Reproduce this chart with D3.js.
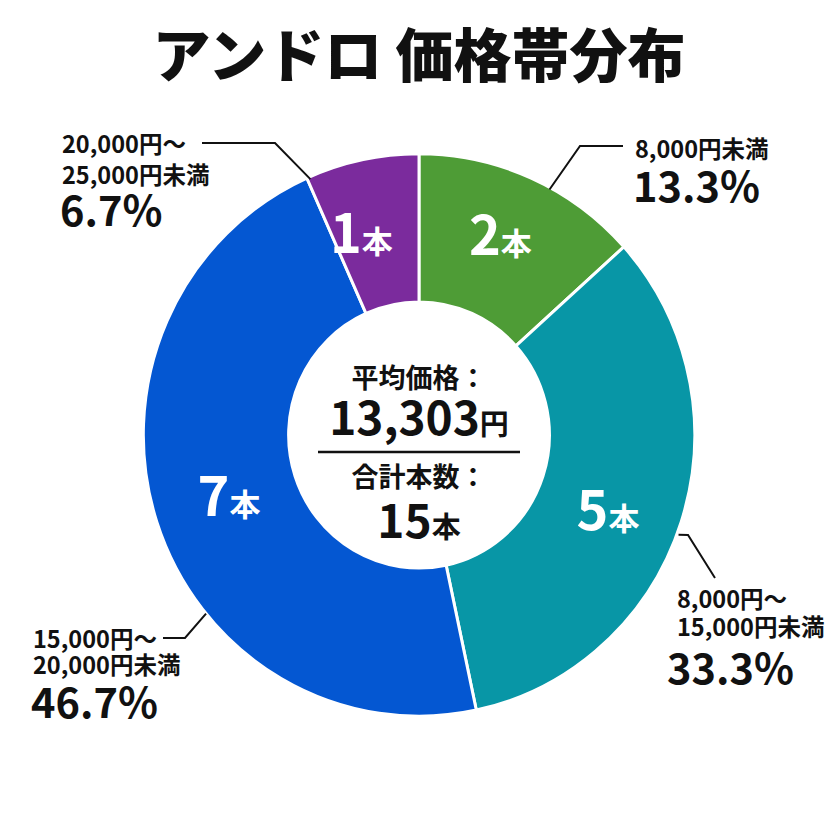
<!DOCTYPE html>
<html>
<head>
<meta charset="utf-8">
<script src="https://cdn.jsdelivr.net/npm/d3@7"></script>
<style>
  body { margin: 0; background: #fff; }
  svg text { font-family: "Noto Sans CJK JP", "Noto Sans", sans-serif; }
</style>
</head>
<body>
<svg width="836" height="836"></svg>
<script>
// data
const categories = ["8,000円未満", "8,000円～15,000円未満", "15,000円～20,000円未満", "20,000円～25,000円未満"];
const counts = [2, 5, 7, 1];
const percents = ["13.3%", "33.3%", "46.7%", "6.7%"];
const labelLines = [["8,000円未満"], ["8,000円～", "15,000円未満"], ["15,000円～", "20,000円未満"], ["20,000円～", "25,000円未満"]];
const colors = ["#4e9c36", "#0896a6", "#0457d2", "#7b2b9d"];
const avgPrice = "13,303";
const totalCount = 15;

const svg = d3.select("svg");
const cx = 419, cy = 435;
const outerR = 279, innerR = 132;

svg.append("text")
    .attr("x", cx)
    .attr("y", 77)
    .attr("text-anchor", "middle")
    .attr("font-size", 58)
    .attr("font-weight", 900)
    .attr("fill", "#111")
    .text("アンドロ 価格帯分布");

const g = svg.append("g").attr("transform", `translate(${cx},${cy})`);

const pie = d3.pie().sort(null).value(d => d);
const arcs = pie(counts);
const arc = d3.arc().innerRadius(innerR).outerRadius(outerR);
const labelArc = d3.arc().innerRadius(205).outerRadius(205);

// the reference ring is a touch taller than wide
g.append("g")
    .attr("transform", "scale(0.988,1.008)")
    .selectAll("path.slice")
    .data(arcs)
    .enter().append("path")
    .attr("class", "slice")
    .attr("d", arc)
    .attr("fill", (d, i) => colors[i])
    .attr("stroke", "#fff")
    .attr("stroke-width", 3);

// slice count labels
const nudge = [[-2, -9], [-6, 16], [5, 2], [-15, 3]];
const countText = g.selectAll("text.count")
    .data(arcs)
    .enter().append("text")
    .attr("class", "count")
    .attr("transform", (d, i) => {
        const [x, y] = labelArc.centroid(d);
        return `translate(${x + nudge[i][0]},${y + nudge[i][1] + 16})`;
    })
    .attr("text-anchor", "middle")
    .attr("fill", "#fff")
    .attr("font-weight", 700);
countText.append("tspan").attr("font-size", 54).text(d => d.data);
countText.append("tspan").attr("font-size", 31).text("本");

// callouts: anchor angle on the outer edge, elbow and end in px relative to centre
const callouts = [
    { angle: 28, elbow: [161, -289], end: [204, -289], tx: 216, ty: [-277], py: -233 },
    { angle: 111, elbow: [269, 100], end: [296, 143], tx: 258, ty: [173, 201], py: 249 },
    { angle: 230, elbow: [-234, 203], end: [-256, 203], tx: -386, ty: [213, 239], py: 283 },
    { angle: 337, elbow: [-144, -292], end: [-217, -292], tx: -357, ty: [-282, -251], py: -209 }
];

const toRad = a => a * Math.PI / 180;
callouts.forEach((c, i) => {
    const ax = Math.sin(toRad(c.angle)) * (outerR - 1);
    const ay = -Math.cos(toRad(c.angle)) * (outerR - 1);
    g.append("path")
        .attr("d", d3.line()([[ax, ay], c.elbow, c.end]))
        .attr("fill", "none")
        .attr("stroke", "#111")
        .attr("stroke-width", 2);
    labelLines[i].forEach((line, j) => {
        g.append("text")
            .attr("x", c.tx)
            .attr("y", c.ty[j])
            .attr("font-size", 23.5)
            .attr("font-weight", 700)
            .attr("fill", "#111")
            .text(line);
    });
    g.append("text")
        .attr("x", i === 1 ? c.tx - 10 : c.tx - 2)
        .attr("y", c.py)
        .attr("font-size", 41.5)
        .attr("font-weight", 700)
        .attr("fill", "#111")
        .text(percents[i]);
});

// centre text
g.append("text")
    .attr("y", -47)
    .attr("text-anchor", "middle")
    .attr("font-size", 27)
    .attr("font-weight", 700)
    .attr("fill", "#111")
    .text("平均価格：");

const avg = g.append("text")
    .attr("y", 0)
    .attr("text-anchor", "middle")
    .attr("font-weight", 700)
    .attr("fill", "#111");
avg.append("tspan").attr("font-size", 46).text(avgPrice);
avg.append("tspan").attr("font-size", 29).text("円");

g.append("line")
    .attr("x1", -101).attr("x2", 101)
    .attr("y1", 17).attr("y2", 17)
    .attr("stroke", "#111")
    .attr("stroke-width", 2.5);

g.append("text")
    .attr("y", 52)
    .attr("text-anchor", "middle")
    .attr("font-size", 27)
    .attr("font-weight", 700)
    .attr("fill", "#111")
    .text("合計本数：");

const tot = g.append("text")
    .attr("y", 103)
    .attr("text-anchor", "middle")
    .attr("font-weight", 700)
    .attr("fill", "#111");
tot.append("tspan").attr("font-size", 46).text(totalCount);
tot.append("tspan").attr("font-size", 29).text("本");
</script>
</body>
</html>
